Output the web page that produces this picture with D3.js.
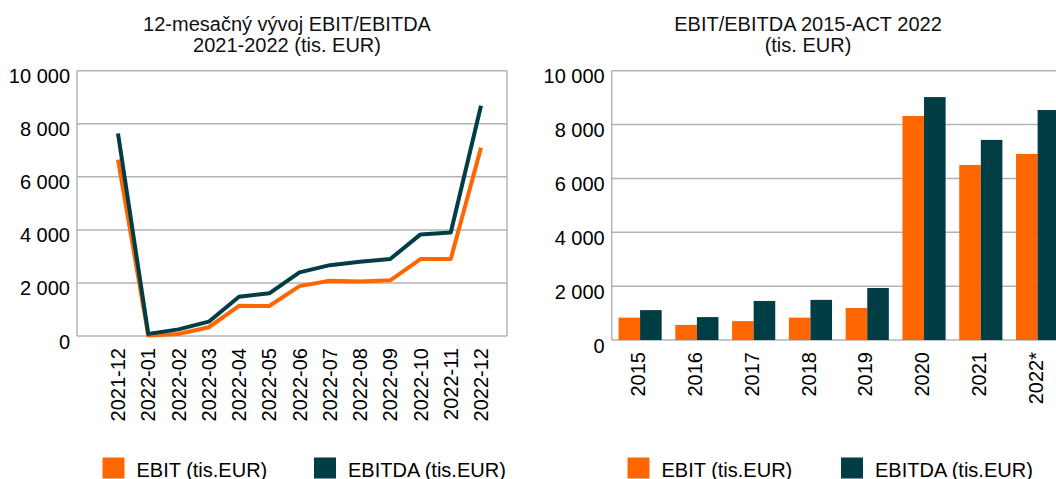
<!DOCTYPE html>
<html>
<head>
<meta charset="utf-8">
<script src="https://cdn.jsdelivr.net/npm/d3@7"></script>
<style>
  body { margin: 0; background: #fff; }
  svg { display: block; font-family: "Liberation Sans", Arial, sans-serif; }
</style>
</head>
<body>
<div id="chart"></div>
<script>
// monthly data 2021-12 .. 2022-12 (tis. EUR)
var months = ["2021-12", "2022-01", "2022-02", "2022-03", "2022-04", "2022-05", "2022-06",
              "2022-07", "2022-08", "2022-09", "2022-10", "2022-11", "2022-12"];
var ebitMonthly = [6650, 20, 75, 330, 1140, 1130, 1880, 2080, 2050, 2100, 2900, 2900, 7100];
var ebitdaMonthly = [7630, 80, 250, 540, 1480, 1610, 2400, 2670, 2800, 2900, 3830, 3900, 8680];

// yearly data
var years = ["2015", "2016", "2017", "2018", "2019", "2020", "2021", "2022*"];
var ebitYearly = [830, 560, 700, 830, 1190, 8320, 6500, 6910];
var ebitdaYearly = [1110, 850, 1450, 1490, 1930, 9020, 7430, 8540];

var yTicks = [0, 2000, 4000, 6000, 8000, 10000];
var seriesNames = ["EBIT (tis.EUR)", "EBITDA (tis.EUR)"];
var colors = ["#ff6600", "#003d45"];

var width = 1056, height = 479;
var fmt = function (v) { return d3.format(",")(v).replace(/,/g, " "); };

var svg = d3.select("#chart").append("svg")
  .attr("width", width)
  .attr("height", height);

function drawFrame(g, x0, x1, y) {
  // gridlines
  g.selectAll("line.grid").data(yTicks).enter().append("line")
    .attr("class", "grid")
    .attr("x1", x0).attr("x2", x1)
    .attr("y1", function (d) { return y(d); })
    .attr("y2", function (d) { return y(d); })
    .attr("stroke", "#b3b3b3").attr("stroke-width", 1.5);
  g.append("line")
    .attr("x1", x0).attr("x2", x0)
    .attr("y1", y(10000)).attr("y2", y(0))
    .attr("stroke", "#b3b3b3").attr("stroke-width", 1.5);
  g.selectAll("text.ytick").data(yTicks).enter().append("text")
    .attr("class", "ytick")
    .attr("x", x0 - 7)
    .attr("y", function (d) { return y(d) + 12.5; })
    .attr("text-anchor", "end")
    .attr("font-size", 20)
    .attr("fill", "#000")
    .text(fmt);
}

function drawTitle(cx, lines) {
  svg.append("text")
    .attr("text-anchor", "middle")
    .attr("font-size", 20)
    .attr("fill", "#111")
    .selectAll("tspan").data(lines).enter().append("tspan")
    .attr("x", cx)
    .attr("y", function (d, i) { return 31 + i * 21; })
    .text(function (d) { return d; });
}

function drawLegend(items) {
  var lg = svg.append("g");
  items.forEach(function (it, i) {
    lg.append("rect")
      .attr("x", it.x).attr("y", 457.5)
      .attr("width", 22).attr("height", 21)
      .attr("fill", colors[i]);
    lg.append("text")
      .attr("x", it.x + 34).attr("y", 476.5)
      .attr("font-size", 20)
      .attr("fill", "#000")
      .text(seriesNames[i]);
  });
}

// ---------- left: line chart ----------
var lx0 = 77, lx1 = 507, ly0 = 70.7, ly1 = 336;
var yL = d3.scaleLinear().domain([0, 10000]).range([ly1, ly0]);
var xL = d3.scalePoint().domain(months).range([118, 481]);

var left = svg.append("g");
drawFrame(left, lx0, lx1, yL);
left.append("line")
  .attr("x1", lx1).attr("x2", lx1).attr("y1", ly0).attr("y2", ly1)
  .attr("stroke", "#b3b3b3").attr("stroke-width", 1.5);

var line = d3.line()
  .x(function (d, i) { return xL(months[i]); })
  .y(function (d) { return yL(d); });

[ebitMonthly, ebitdaMonthly].forEach(function (s, i) {
  left.append("path")
    .datum(s)
    .attr("d", line)
    .attr("fill", "none")
    .attr("stroke", colors[i])
    .attr("stroke-width", 4)
    .attr("stroke-linejoin", "round");
});

left.selectAll("text.xlab").data(months).enter().append("text")
  .attr("class", "xlab")
  .attr("transform", function (d) { return "translate(" + xL(d) + "," + (ly1 + 12) + ") rotate(-90)"; })
  .attr("dy", "0.36em")
  .attr("text-anchor", "end")
  .attr("font-size", 20)
  .text(function (d) { return d; });

drawTitle(287, ["12-mesačný vývoj EBIT/EBITDA", "2021-2022 (tis. EUR)"]);

// ---------- right: bar chart ----------
var rx0 = 611.7, rx1 = 1066, ry0 = 70.7, ry1 = 340;
var yR = d3.scaleLinear().domain([0, 10000]).range([ry1, ry0]);
var xR = d3.scaleBand().domain(years).range([rx0, rx1]).paddingInner(0.24).paddingOuter(0.12);
var xSub = d3.scaleBand().domain([0, 1]).range([0, xR.bandwidth()]);

var right = svg.append("g");
drawFrame(right, rx0, rx1, yR);

[ebitYearly, ebitdaYearly].forEach(function (s, si) {
  right.selectAll("rect.s" + si).data(s).enter().append("rect")
    .attr("class", "s" + si)
    .attr("x", function (d, i) { return xR(years[i]) + xSub(si); })
    .attr("y", function (d) { return yR(d); })
    .attr("width", xSub.bandwidth())
    .attr("height", function (d) { return ry1 - yR(d); })
    .attr("fill", colors[si]);
});

right.selectAll("text.xlab").data(years).enter().append("text")
  .attr("class", "xlab")
  .attr("transform", function (d) { return "translate(" + (xR(d) + xR.bandwidth() / 2 - 2) + "," + (ry1 + 12) + ") rotate(-90)"; })
  .attr("dy", "0.36em")
  .attr("text-anchor", "end")
  .attr("font-size", 20)
  .text(function (d) { return d; });

drawTitle(808, ["EBIT/EBITDA 2015-ACT 2022", "(tis. EUR)"]);

drawLegend([{ x: 102.5 }, { x: 314 }]);
var lg2 = [{ x: 627.5 }, { x: 841 }];
lg2.forEach(function (it, i) {
  svg.append("rect")
    .attr("x", it.x).attr("y", 457.5)
    .attr("width", 22).attr("height", 21)
    .attr("fill", colors[i]);
  svg.append("text")
    .attr("x", it.x + 34).attr("y", 476.5)
    .attr("font-size", 20)
    .text(seriesNames[i]);
});
</script>
</body>
</html>
